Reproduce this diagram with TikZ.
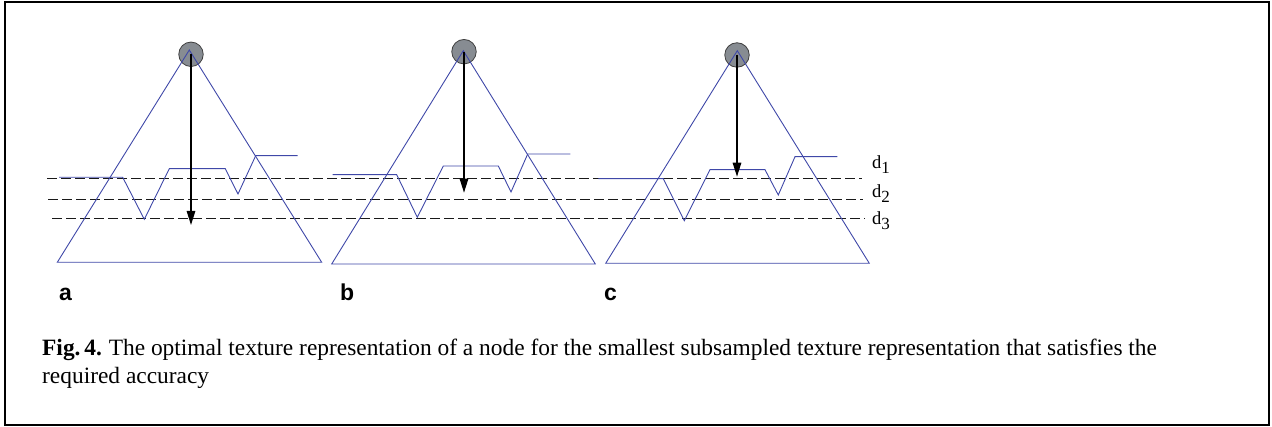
\documentclass[tikz,border=0pt]{standalone}
\usepackage{fontspec}
\setmainfont{Liberation Serif}
\setsansfont{Liberation Sans}
\usetikzlibrary{arrows.meta}
\definecolor{tblue}{HTML}{3F48A8}
\definecolor{nodegray}{HTML}{878C92}
\begin{document}
\begin{tikzpicture}[x=1pt,y=-1pt,
  tri/.style={draw=tblue,line width=0.9pt,line join=miter},
  texcurve/.style={draw=tblue,line width=0.9pt},
  lvl/.style={draw=black!90,line width=0.9pt,dash pattern=on 9.5pt off 4.5pt},
  root/.style={circle,draw=black!75,fill=nodegray,line width=0.8pt,minimum size=24.5pt,inner sep=0pt},
  down/.style={-{Triangle[length=14pt,width=8.5pt]},line width=1.4pt,black},
  panel/.style={font=\sffamily\bfseries\fontsize{23}{23}\selectfont,inner sep=0pt,anchor=base west},
  dlab/.style={font=\fontsize{18.5}{18.5}\selectfont,inner sep=0pt,anchor=base west},
  captxt/.style={font=\fontsize{23.4}{28}\selectfont,inner sep=0pt,anchor=base west},
]
\useasboundingbox (0,0) rectangle (1272,427);
\draw[line width=2pt] (5,2) rectangle (1269,425);

% levels
\draw[lvl] (47,178.5) -- (862,178.5);
\draw[lvl] (48,199.5) -- (863,199.5);
\draw[lvl] (52,218) -- (865,218);

% panel a
\node[root] (ra) at (191,54.3) {};
\draw[tri] (189.3,50) -- (321.7,262.3) -- (57.3,262.3) -- cycle;
\draw[texcurve] (59,177.3) -- (122.7,177.3) -- (144.3,219.3) -- (169.3,168.7) -- (225.3,168.7) -- (238,194) -- (255.7,155.7) -- (297.7,155.7);
\coordinate (ea) at (191,225);
\draw[down] (ra.center) -- (ea);

% panel b
\node[root] (rb) at (464,51.7) {};
\draw[tri] (463.3,50.7) -- (595.3,264) -- (331.7,264) -- cycle;
\draw[texcurve] (332.7,174.7) -- (396.7,174.7) -- (417.3,217.3) -- (443.3,166) -- (498.3,166) -- (511,192) -- (527.7,154) -- (570.3,154);
\coordinate (eb) at (464,192.7);
\draw[down] (rb.center) -- (eb);

% panel c
\node[root] (rc) at (737,55) {};
\draw[tri] (737.3,50.7) -- (869.3,263.3) -- (605.7,263.3) -- cycle;
\draw[texcurve] (598.3,178.7) -- (663.3,178.7) -- (684.3,220.7) -- (710,169.7) -- (765,169.7) -- (778.3,195) -- (795,156.7) -- (837.3,156.7);
\coordinate (ec) at (737,176.7);
\draw[down] (rc.center) -- (ec);

% level labels
\node[dlab] (d1) at (872,169) {d\raisebox{-5pt}{\fontsize{17}{17}\selectfont 1}};
\node[dlab] (d2) at (872,198) {d\raisebox{-5pt}{\fontsize{17}{17}\selectfont 2}};
\node[dlab] (d3) at (872,225) {d\raisebox{-5pt}{\fontsize{17}{17}\selectfont 3}};

% panel labels
\node[panel] (la) at (59,300.7) {a};
\node[panel] (lb) at (340,300.7) {b};
\node[panel] (lc) at (604,300.7) {c};

% caption
\node[captxt] (cap1) at (42,356) {\textbf{Fig.\,4.}\hspace{-1pt} The optimal texture representation of a node for the smallest subsampled texture representation that satisfies the};
\node[captxt] (cap2) at (42,384) {required accuracy};
\end{tikzpicture}
\end{document}
